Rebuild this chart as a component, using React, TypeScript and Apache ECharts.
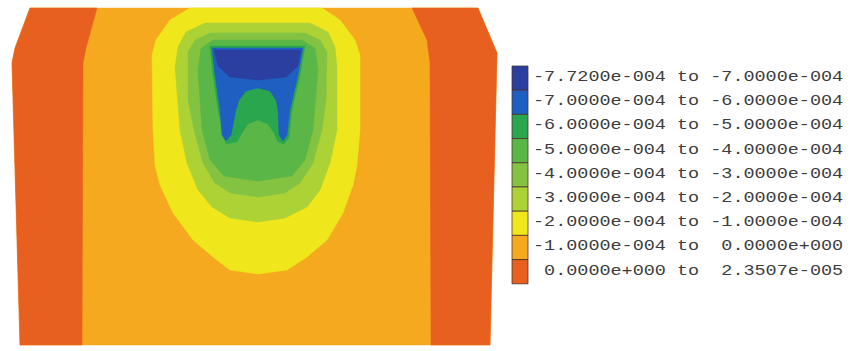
import React, { useEffect, useRef } from "react";
import * as echarts from "echarts";

// Contour band labels (legend, top to bottom)
const bandLabels = [
  "-7.7200e-004 to -7.0000e-004",
  "-7.0000e-004 to -6.0000e-004",
  "-6.0000e-004 to -5.0000e-004",
  "-5.0000e-004 to -4.0000e-004",
  "-4.0000e-004 to -3.0000e-004",
  "-3.0000e-004 to -2.0000e-004",
  "-2.0000e-004 to -1.0000e-004",
  "-1.0000e-004 to  0.0000e+000",
  " 0.0000e+000 to  2.3507e-005",
];

const bandColors = [
  "#2a3fa0",
  "#1f5fc2",
  "#2aa64e",
  "#5ab646",
  "#84c341",
  "#add236",
  "#efe61b",
  "#f5a91e",
  "#e8601f",
];

// Contour region outlines (model coordinates, y downward), band index = legend row
const bodyOutline: [number, number][] = [
  [30, 8], [478, 8], [497, 53], [490, 345], [20, 345], [12, 63], [15, 48],
];
const leftStrip: [number, number][] = [
  [30, 8], [97, 8], [86, 48], [83, 63], [82, 345], [20, 345], [12, 63], [15, 48],
];
const rightStrip: [number, number][] = [
  [412, 8], [478, 8], [497, 53], [490, 345], [431, 345], [430, 63], [427, 40],
];
const zoneMinus2: [number, number][] = [
  [190, 8], [322, 8], [340, 20], [355, 40], [360, 55], [360, 130], [357, 165],
  [353, 185], [343, 213], [327, 240], [307, 257], [287, 270], [258, 274],
  [230, 270], [213, 257], [193, 240], [173, 213], [160, 185], [155, 165],
  [153, 130], [152, 55], [156, 40], [170, 20],
];
const zoneMinus3: [number, number][] = [
  [205, 23], [310, 23], [328, 32], [335, 47], [337, 67], [337, 130], [330, 163],
  [320, 190], [307, 207], [285, 218], [258, 222], [230, 218], [212, 207],
  [198, 190], [187, 163], [180, 130], [175, 67], [178, 47], [186, 32],
];
const zoneMinus4: [number, number][] = [
  [210, 33], [305, 33], [320, 40], [327, 52], [326, 100], [322, 130], [313, 163],
  [300, 183], [285, 193], [258, 197], [230, 193], [215, 183], [203, 163],
  [194, 130], [188, 100], [188, 52], [195, 40],
];
const zoneMinus5: [number, number][] = [
  [213, 40], [302, 40], [315, 48], [318, 70], [313, 130], [305, 160], [292, 176],
  [258, 181], [224, 176], [210, 160], [202, 130], [198, 70], [201, 48],
];
const zoneMinus6: [number, number][] = [
  [210, 46], [305, 46], [300, 75], [292, 110], [289, 137], [284, 144], [278, 142],
  [274, 133], [268, 124], [258, 120], [248, 124], [242, 133], [237, 142],
  [226, 144], [224, 137], [218, 110], [213, 75],
];
const zoneMinus7: [number, number][] = [
  [212, 48], [303, 48], [298, 75], [290, 110], [287, 135], [283, 141], [279, 135],
  [278, 110], [276, 100], [270, 91], [258, 88], [246, 91], [239, 100], [236, 110],
  [231, 135], [226, 141], [222, 135], [220, 110], [215, 75],
];
const zoneMin: [number, number][] = [
  [214, 50], [301, 50], [298, 66], [286, 77], [258, 80], [230, 77], [218, 66],
];

const regions = [
  { pts: bodyOutline, band: 7 },
  { pts: leftStrip, band: 8 },
  { pts: rightStrip, band: 8 },
  { pts: zoneMinus2, band: 6 },
  { pts: zoneMinus3, band: 5 },
  { pts: zoneMinus4, band: 4 },
  { pts: zoneMinus5, band: 3 },
  { pts: zoneMinus6, band: 2 },
  { pts: zoneMinus7, band: 1 },
  { pts: zoneMin, band: 0 },
];

export default function App() {
  const ref = useRef<HTMLDivElement>(null);
  useEffect(() => {
    if (!ref.current) return;
    const chart = echarts.init(ref.current, undefined, { renderer: "svg" });
    const boxX = 512;
    const boxTop = 66;
    const boxH = 24.2;
    const boxW = 16;
    const graphic: any[] = [];
    bandLabels.forEach((label, i) => {
      graphic.push({
        type: "rect",
        shape: { x: boxX, y: boxTop + i * boxH, width: boxW, height: boxH },
        style: { fill: bandColors[i], stroke: "rgba(70,45,40,0.75)", lineWidth: 1 },
        silent: true,
      });
      graphic.push({
        type: "text",
        x: 533,
        y: boxTop + boxH / 2 + i * boxH - 1,
        scaleX: 1.32,
        style: {
          text: label,
          x: 0,
          y: 0,
          fill: "#3c3c3c",
          font: "14px 'Liberation Mono'",
          textVerticalAlign: "middle",
          verticalAlign: "middle",
          textAlign: "left",
        },
        silent: true,
      });
    });
    chart.setOption({
      animation: false,
      backgroundColor: "#ffffff",
      grid: { left: 0, top: 0, width: 500, height: 351 },
      xAxis: { type: "value", min: 0, max: 500, show: false },
      yAxis: { type: "value", min: 0, max: 351, inverse: true, show: false },
      series: [
        {
          type: "custom",
          coordinateSystem: "cartesian2d",
          clip: false,
          silent: true,
          data: regions.map((_, i) => [i, 0]),
          renderItem: (params: any, api: any) => {
            const r = regions[params.dataIndex];
            return {
              type: "polygon",
              shape: { points: r.pts.map((p) => api.coord(p)) },
              style: { fill: bandColors[r.band], stroke: bandColors[r.band], lineWidth: 0.5 },
            };
          },
        },
      ],
      graphic,
    });
    return () => chart.dispose();
  }, []);
  return (
    <div
      ref={ref}
      style={{ position: "fixed", left: 0, top: 0, width: 853, height: 351 }}
    />
  );
}
